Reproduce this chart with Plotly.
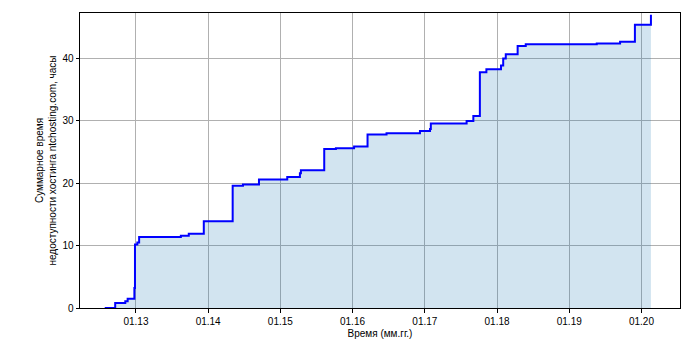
import plotly.graph_objects as go

dates = [
    "2012-07-27", "2012-09-18", "2012-11-08", "2012-11-20", "2012-12-24",
    "2012-12-27", "2013-01-08", "2013-01-17", "2013-08-16", "2013-09-25",
    "2013-12-10", "2014-05-05", "2014-06-26", "2014-09-15", "2015-02-05",
    "2015-04-10", "2015-04-15", "2015-08-11", "2015-10-09", "2016-01-09",
    "2016-03-17", "2016-06-21", "2016-12-07", "2017-01-27", "2017-01-31",
    "2017-07-31", "2017-09-03", "2017-10-06", "2017-11-08", "2018-01-21",
    "2018-02-01", "2018-02-14", "2018-04-15", "2018-05-26", "2019-05-20",
    "2019-09-15", "2019-11-29", "2020-02-18",
]
hours = [
    0.0, 0.8, 1.1, 1.5, 3.2,
    10.2, 10.5, 11.4, 11.6, 11.9,
    13.9, 19.6, 19.8, 20.6, 21.0,
    21.6, 22.1, 25.5, 25.6, 25.9,
    27.8, 28.0, 28.4, 28.7, 29.6,
    30.0, 30.8, 37.8, 38.3, 38.9,
    40.0, 40.7, 42.0, 42.3, 42.4,
    42.7, 45.4, 47.0,
]
tick_dates = ["2013-01-01", "2014-01-01", "2015-01-01", "2016-01-01",
              "2017-01-01", "2018-01-01", "2019-01-01", "2020-01-01"]
tick_labels = ["01.13", "01.14", "01.15", "01.16", "01.17", "01.18", "01.19", "01.20"]
y_ticks = [0, 10, 20, 30, 40]

fig = go.Figure()
fig.add_trace(go.Scatter(
    x=dates, y=hours, mode="lines", line_shape="hv",
    line=dict(width=0), fill="tozeroy", fillcolor="rgba(31,119,180,0.2)",
    hoverinfo="skip", showlegend=False,
))
fig.add_trace(go.Scatter(
    x=dates, y=hours, mode="lines", line_shape="hv",
    line=dict(color="#0000ff", width=2), showlegend=False,
))

axis_common = dict(
    showgrid=True, gridcolor="#b0b0b0", gridwidth=1,
    showline=True, linecolor="black", linewidth=1, mirror=True,
    ticks="outside", ticklen=3.5, tickcolor="black", tickwidth=1,
    zeroline=False, tickfont=dict(size=10, color="black"),
)
fig.update_xaxes(
    type="date", range=["2012-03-24", "2020-07-14"],
    tickmode="array", tickvals=tick_dates, ticktext=tick_labels,
    title=dict(text="Время (мм.гг.)", font=dict(size=10, color="black"), standoff=4),
    **axis_common,
)
fig.update_yaxes(
    range=[0, 47.3], tickmode="array", tickvals=y_ticks,
    title=dict(text="Суммарное время<br>недоступности хостинга ntchosting.com, часы",
               font=dict(size=10, color="black"), standoff=3),
    **axis_common,
)
fig.update_layout(
    width=700, height=350,
    margin=dict(l=80, r=20, t=13, b=39),
    plot_bgcolor="white", paper_bgcolor="white",
    font=dict(family="Liberation Sans, Arial, sans-serif", size=10, color="black"),
)
fig.write_html("out.html")
